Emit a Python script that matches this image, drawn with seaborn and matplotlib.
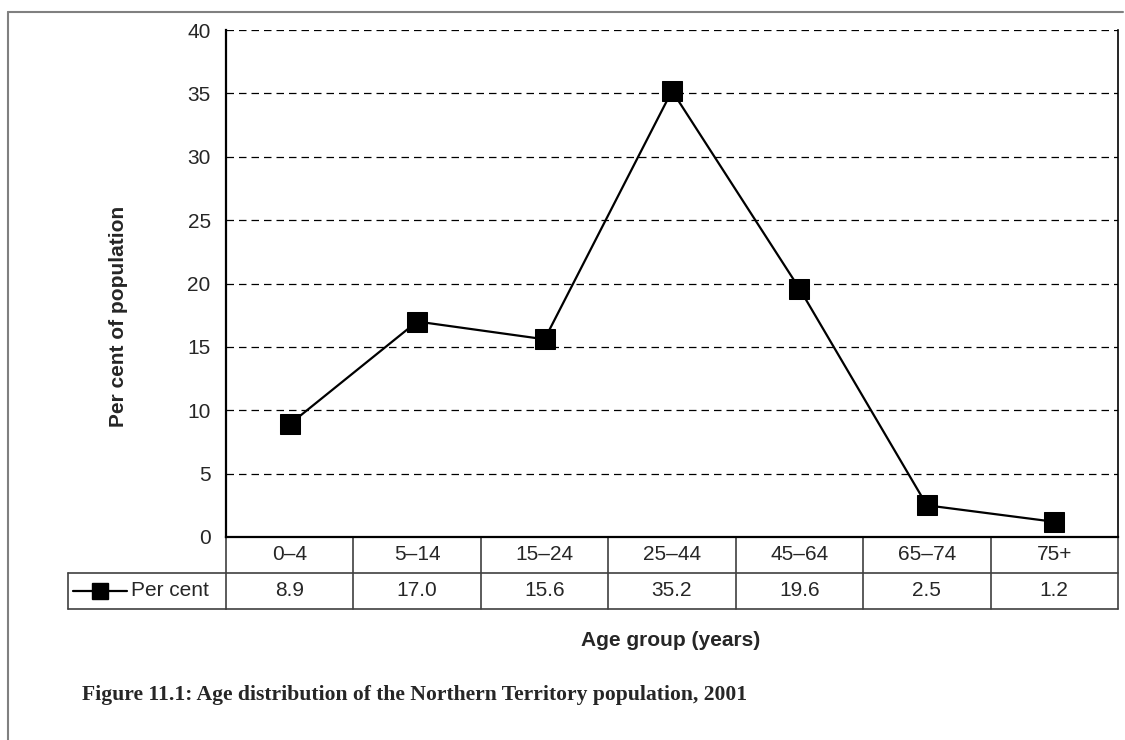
import numpy as np
import matplotlib
matplotlib.use("Agg")
import matplotlib.pyplot as plt
import pandas as pd
import seaborn as sb
from matplotlib.lines import Line2D

age_groups = ["0–4", "5–14", "15–24", "25–44", "45–64", "65–74", "75+"]
per_cent = [8.9, 17.0, 15.6, 35.2, 19.6, 2.5, 1.2]
series_name = "Per cent"
y_ticks = [0, 5, 10, 15, 20, 25, 30, 35, 40]

sb.set_style("white")
plt.rcParams["font.family"] = ["Liberation Sans", "DejaVu Sans"]

df = pd.DataFrame({"age": age_groups, "pct": per_cent})

W, H = 1125, 740
fig = plt.figure(figsize=(W / 100, H / 100), dpi=100)
ax = fig.add_axes([226 / W, 1 - 537 / H, (1118 - 226) / W, (537 - 30) / H])

sb.lineplot(data=df, x="age", y="pct", ax=ax, color="black", linewidth=1.6,
            marker="s", markersize=14, markeredgecolor="black", sort=False)

ax.set_xlim(-0.5, len(age_groups) - 0.5)
ax.set_ylim(0, 40)
ax.set_yticks(y_ticks)
ax.set_yticklabels([str(t) for t in y_ticks], fontsize=15)
ax.tick_params(axis="y", length=7, width=1, color="black", direction="out", pad=4)
ax.set_xticks([])
ax.set_xlabel("")
ax.set_ylabel("")

for t in y_ticks[1:]:
    ax.axhline(t, color="black", linestyle=(0, (6, 4)), linewidth=0.9, zorder=0)

for side in ["left", "bottom", "right"]:
    ax.spines[side].set_visible(True)
    ax.spines[side].set_color("black")
ax.spines["left"].set_linewidth(1.6)
ax.spines["bottom"].set_linewidth(1.6)
ax.spines["right"].set_linewidth(1.2)
ax.spines["top"].set_visible(False)

# data table under the axis
tr = ax.get_xaxis_transform()
ah = 537 - 30
r1 = -36 / ah
r2 = -72 / ah
n = len(age_groups)
tcol = "#404040"
for i in range(n + 1):
    xb = i - 0.5
    ax.add_line(Line2D([xb, xb], [0, r2], transform=tr, color=tcol, lw=1.2, clip_on=False))
ax.add_line(Line2D([-0.5, n - 0.5], [r1, r1], transform=tr, color=tcol, lw=1.2, clip_on=False))
ax.add_line(Line2D([-0.5, n - 0.5], [r2, r2], transform=tr, color=tcol, lw=1.2, clip_on=False))
for i, (lab, v) in enumerate(zip(age_groups, per_cent)):
    ax.text(i, r1 / 2, lab, transform=tr, ha="center", va="center", fontsize=15)
    ax.text(i, (r1 + r2) / 2, f"{v:.1f}", transform=tr, ha="center", va="center", fontsize=15)

# legend cell of the table (figure pixel coords)
def fx(px):
    return px / W

def fy(py):
    return 1 - py / H

fig.add_artist(Line2D([fx(68), fx(226)], [fy(573), fy(573)], color=tcol, lw=1.2))
fig.add_artist(Line2D([fx(68), fx(226)], [fy(609), fy(609)], color=tcol, lw=1.2))
fig.add_artist(Line2D([fx(68), fx(68)], [fy(573), fy(609)], color=tcol, lw=1.2))
fig.add_artist(Line2D([fx(73), fx(127)], [fy(591), fy(591)], color="black", lw=1.6))
fig.add_artist(Line2D([fx(100)], [fy(591)], color="black", marker="s", markersize=11, lw=0))
fig.text(fx(131), fy(591), series_name, ha="left", va="center", fontsize=15)

# axis titles
fig.text(fx(119), fy(316), "Per cent of population", rotation=90, ha="center", va="center",
         fontsize=15, fontweight="bold")
fig.text(fx(671), fy(641), "Age group (years)", ha="center", va="center",
         fontsize=15, fontweight="bold")

# caption
fig.text(fx(82), fy(695), "Figure 11.1: Age distribution of the Northern Territory population, 2001",
         ha="left", va="center", fontsize=15.6, fontweight="bold", family="Liberation Serif")

# page frame
fig.add_artist(Line2D([fx(8), fx(1123)], [fy(12), fy(12)], color="#808080", lw=1.5))
fig.add_artist(Line2D([fx(8), fx(8)], [fy(12), fy(740)], color="#808080", lw=1.5))

fig.savefig("out.png", dpi=100)
